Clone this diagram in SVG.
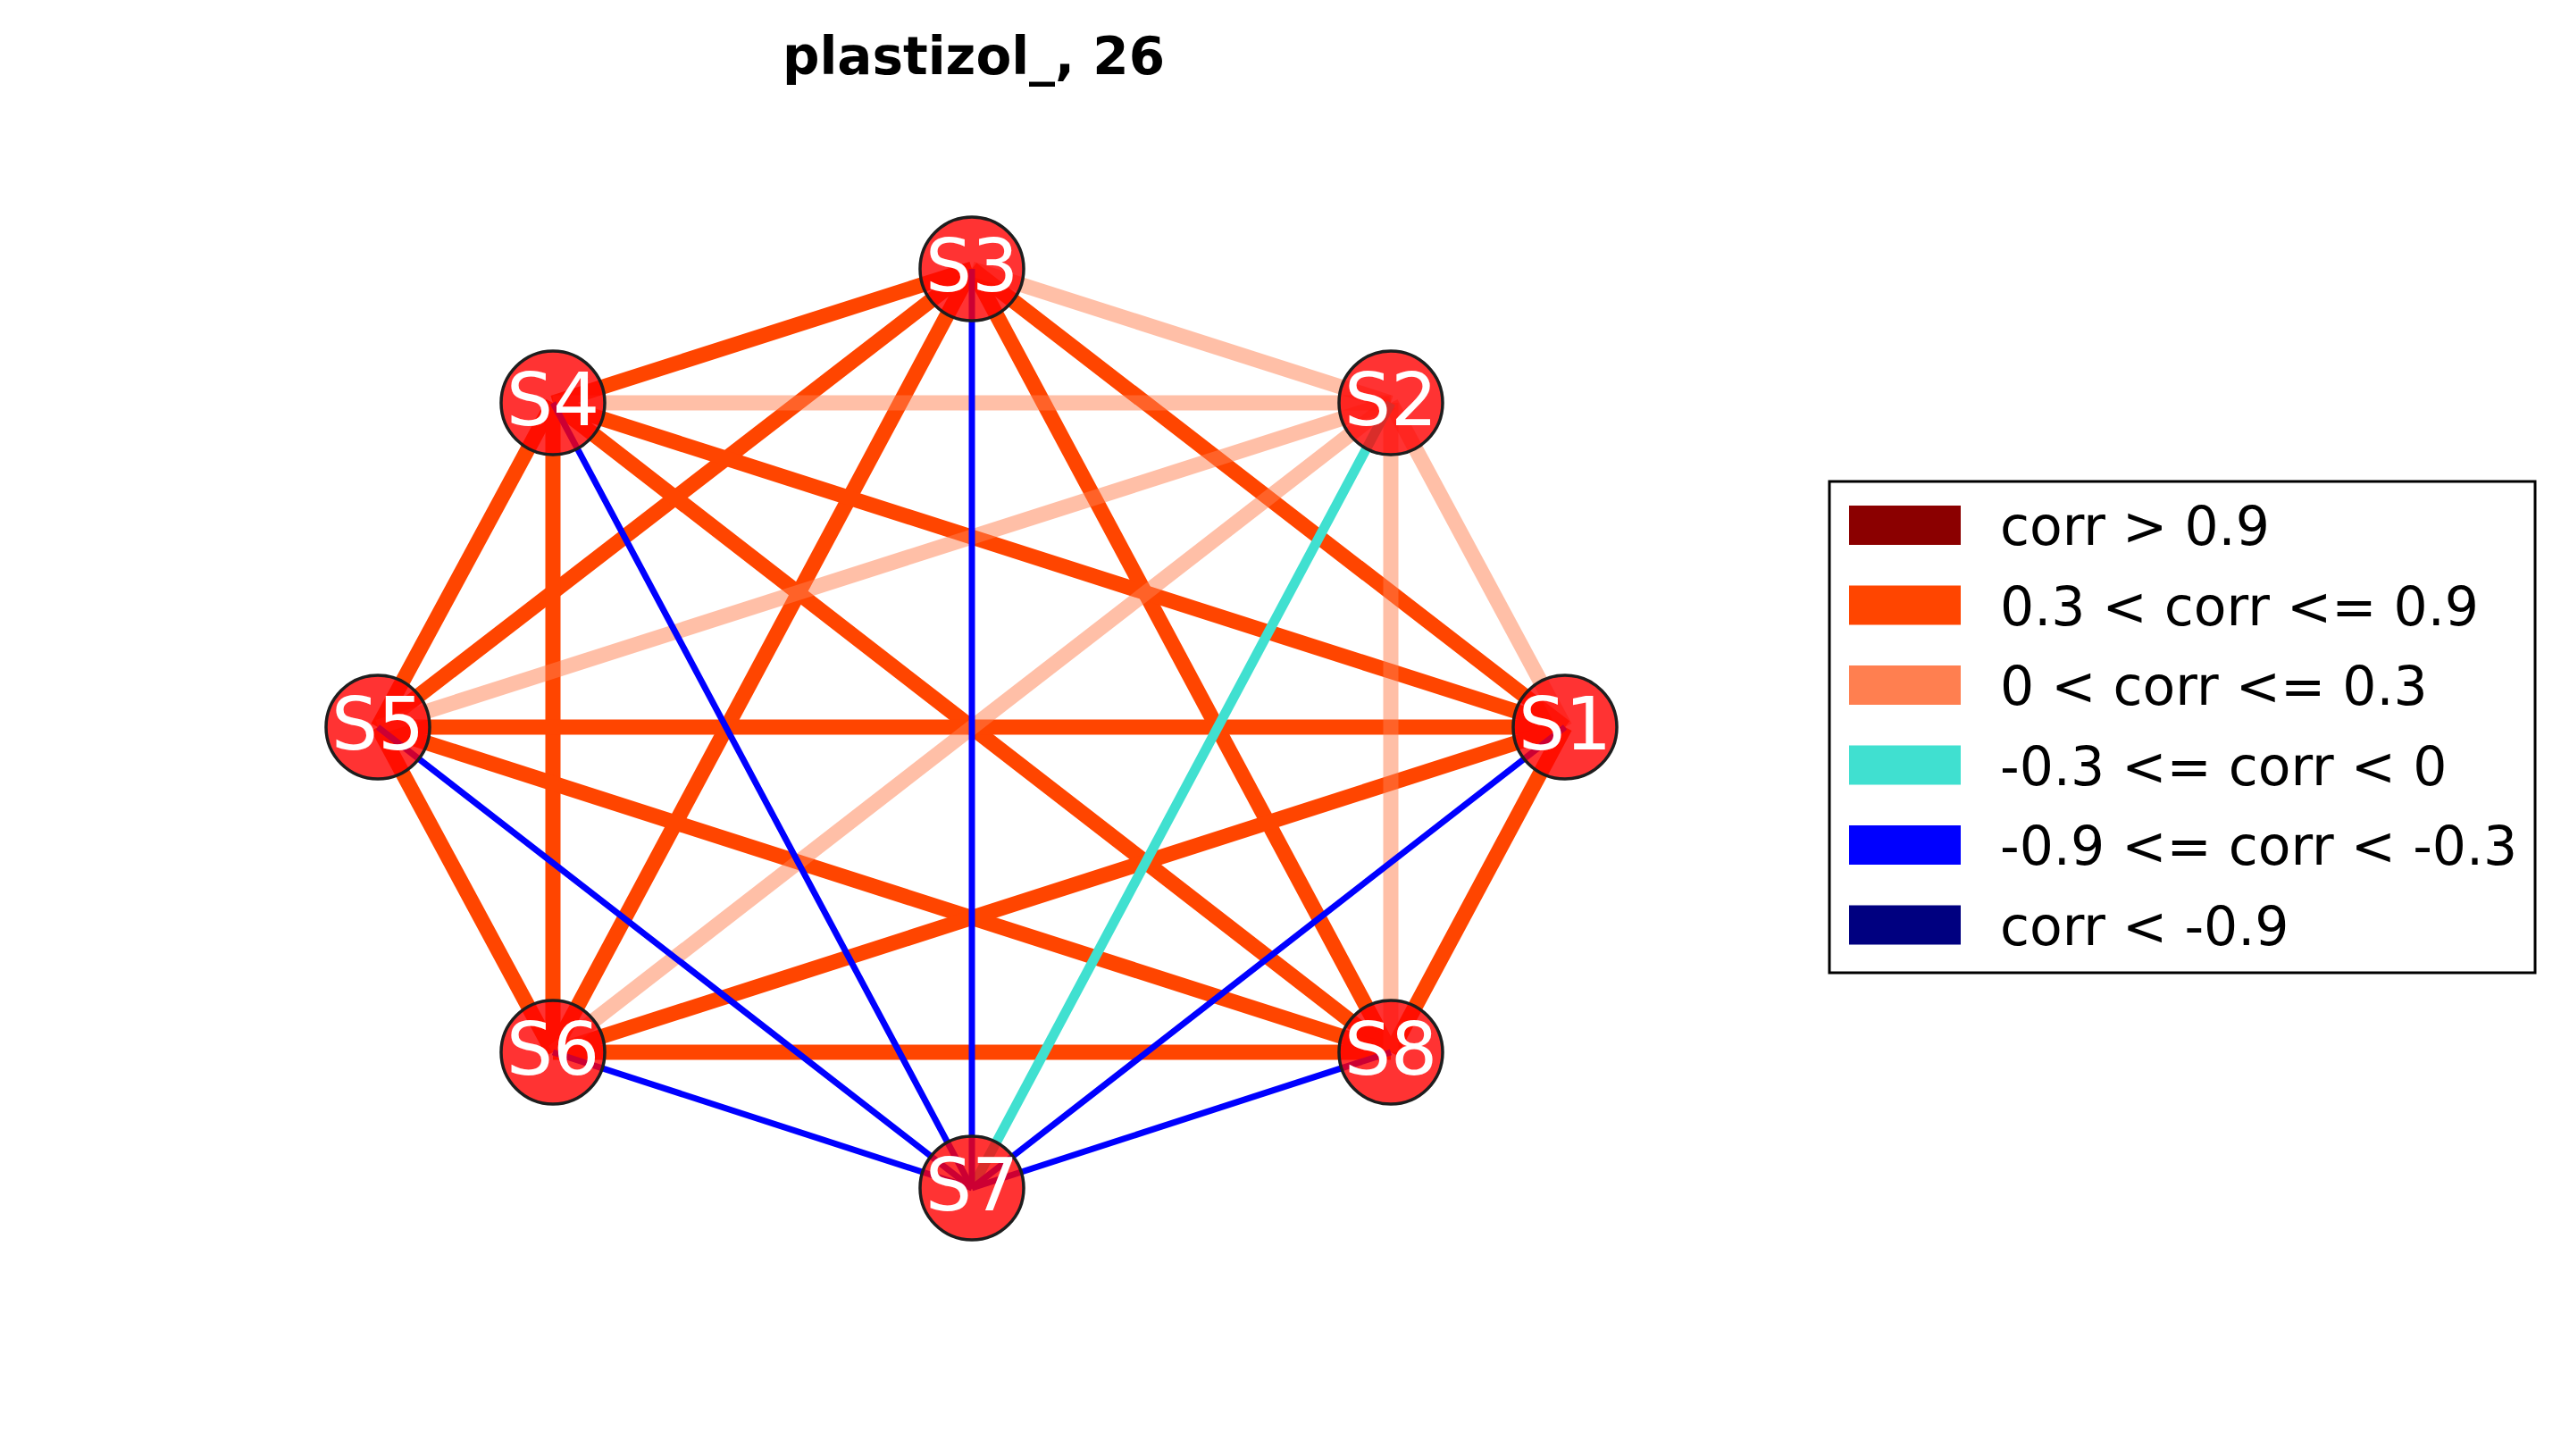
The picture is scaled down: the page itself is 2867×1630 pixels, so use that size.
<svg xmlns="http://www.w3.org/2000/svg" width="2867" height="1630" viewBox="0 0 2867 1630">
<style>
.e{fill:none;stroke-linecap:butt}
.o{stroke:#ff4500;stroke-width:17}
.l{stroke:#ff7f50;stroke-opacity:0.5;stroke-width:17}
.t{stroke:#40e0d0;stroke-width:11}
.b{stroke:#0000ff;stroke-width:7}
.n circle{fill:#ff0000;fill-opacity:0.8;stroke:#1e1e1e;stroke-width:3.5}
.n text{font-family:"DejaVu Sans",sans-serif;font-size:82px;fill:#ffffff;text-anchor:middle}
.lg text{font-family:"DejaVu Sans",sans-serif;font-size:60px;fill:#000000}
</style>
<rect width="2867" height="1630" fill="#ffffff"/>
<text x="1090" y="83" font-family="DejaVu Sans, sans-serif" font-weight="bold" font-size="58" text-anchor="middle">plastizol_, 26</text>
<g id="edges" class="e">
<line class="o" x1="1088" y1="301" x2="619" y2="451"/>
<line class="o" x1="1088" y1="301" x2="423" y2="814"/>
<line class="o" x1="1088" y1="301" x2="619" y2="1178"/>
<line class="o" x1="1088" y1="301" x2="1557" y2="1178"/>
<line class="o" x1="1088" y1="301" x2="1752" y2="814"/>
<line class="o" x1="619" y1="451" x2="423" y2="814"/>
<line class="o" x1="619" y1="451" x2="619" y2="1178"/>
<line class="o" x1="619" y1="451" x2="1557" y2="1178"/>
<line class="o" x1="619" y1="451" x2="1752" y2="814"/>
<line class="o" x1="423" y1="814" x2="1752" y2="814"/>
<line class="o" x1="423" y1="814" x2="619" y2="1178"/>
<line class="o" x1="423" y1="814" x2="1557" y2="1178"/>
<line class="o" x1="619" y1="1178" x2="1752" y2="814"/>
<line class="o" x1="619" y1="1178" x2="1557" y2="1178"/>
<line class="o" x1="1557" y1="1178" x2="1752" y2="814"/>
<line class="l" x1="1088" y1="301" x2="1557" y2="451"/>
<line class="l" x1="619" y1="451" x2="1557" y2="451"/>
<line class="l" x1="1557" y1="451" x2="423" y2="814"/>
<line class="l" x1="1557" y1="451" x2="619" y2="1178"/>
<line class="l" x1="1557" y1="451" x2="1557" y2="1178"/>
<line class="l" x1="1557" y1="451" x2="1752" y2="814"/>
<line class="t" x1="1557" y1="451" x2="1088" y2="1330"/>
<line class="b" x1="1088" y1="301" x2="1088" y2="1330"/>
<line class="b" x1="619" y1="451" x2="1088" y2="1330"/>
<line class="b" x1="423" y1="814" x2="1088" y2="1330"/>
<line class="b" x1="619" y1="1178" x2="1088" y2="1330"/>
<line class="b" x1="1557" y1="1178" x2="1088" y2="1330"/>
<line class="b" x1="1752" y1="814" x2="1088" y2="1330"/>
</g>
<g id="S1" class="n"><circle cx="1752" cy="814" r="58"/><text x="1752" y="839">S1</text></g>
<g id="S2" class="n"><circle cx="1557" cy="451" r="58"/><text x="1557" y="476">S2</text></g>
<g id="S3" class="n"><circle cx="1088" cy="301" r="58"/><text x="1088" y="326">S3</text></g>
<g id="S4" class="n"><circle cx="619" cy="451" r="58"/><text x="619" y="476">S4</text></g>
<g id="S5" class="n"><circle cx="423" cy="814" r="58"/><text x="423" y="839">S5</text></g>
<g id="S6" class="n"><circle cx="619" cy="1178" r="58"/><text x="619" y="1203">S6</text></g>
<g id="S7" class="n"><circle cx="1088" cy="1330" r="58"/><text x="1088" y="1355">S7</text></g>
<g id="S8" class="n"><circle cx="1557" cy="1178" r="58"/><text x="1557" y="1203">S8</text></g>
<g id="legend" class="lg">
<rect x="2048" y="539" width="790" height="550" fill="#ffffff" stroke="#000000" stroke-width="3"/>
<rect x="2070" y="566" width="125" height="44" fill="#8b0000"/>
<rect x="2070" y="655.5" width="125" height="44" fill="#ff4500"/>
<rect x="2070" y="745" width="125" height="44" fill="#ff7f50"/>
<rect x="2070" y="834.5" width="125" height="44" fill="#40e0d0"/>
<rect x="2070" y="924" width="125" height="44" fill="#0000ff"/>
<rect x="2070" y="1013.5" width="125" height="44" fill="#000080"/>
<text x="2239" y="610">corr &gt; 0.9</text>
<text x="2239" y="699.5">0.3 &lt; corr &lt;= 0.9</text>
<text x="2239" y="789">0 &lt; corr &lt;= 0.3</text>
<text x="2239" y="878.5">-0.3 &lt;= corr &lt; 0</text>
<text x="2239" y="968">-0.9 &lt;= corr &lt; -0.3</text>
<text x="2239" y="1057.5">corr &lt; -0.9</text>
</g>
</svg>
